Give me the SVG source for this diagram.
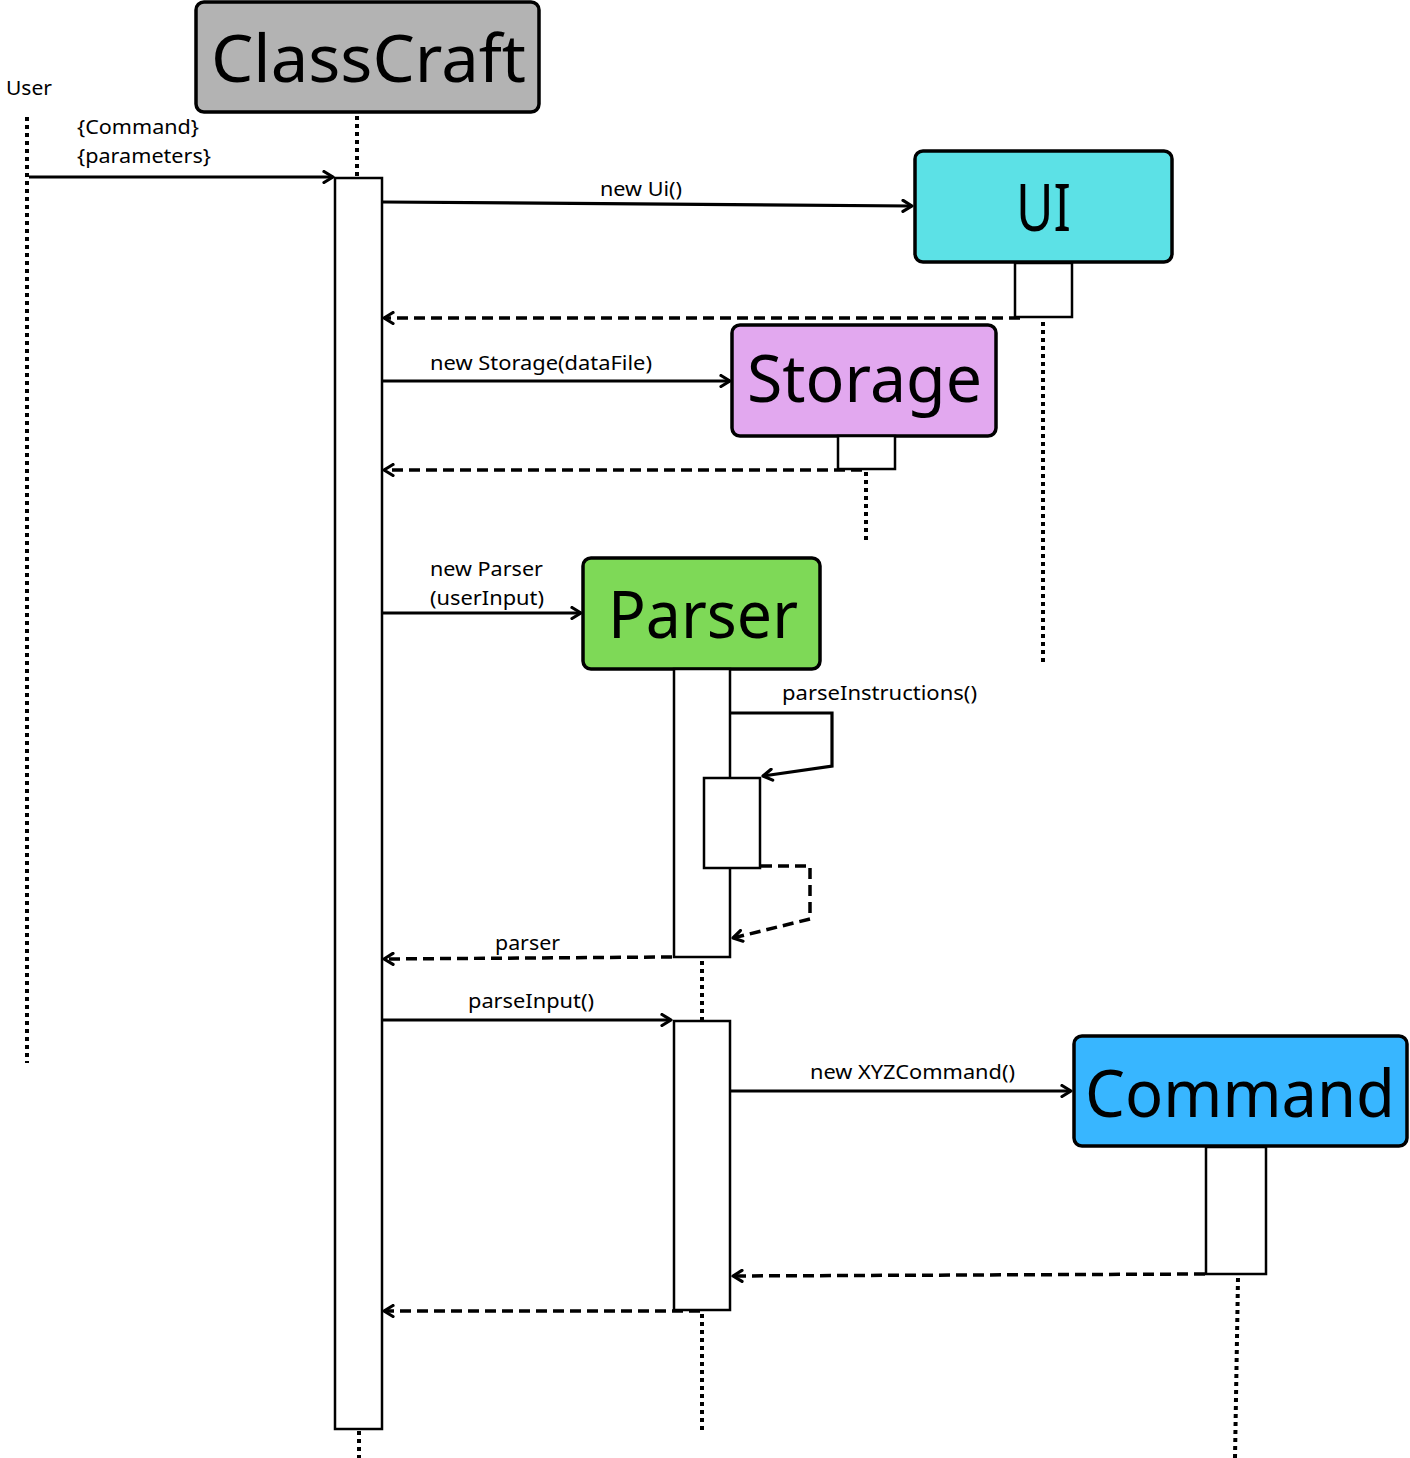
<svg xmlns="http://www.w3.org/2000/svg" width="1410" height="1458" viewBox="0 0 1410 1458">
<defs>
<style>
.box{stroke:#000;stroke-width:3.5}
.big{font-family:"Noto Sans","Open Sans",sans-serif;font-size:66px;fill:#000}
.lbl{font-family:"Noto Sans","Open Sans",sans-serif;font-size:20px;fill:#000}
.act{fill:#fff;stroke:#000;stroke-width:2.5}
.life{stroke:#000;stroke-width:4;stroke-dasharray:4 4;fill:none}
.msg{stroke:#000;stroke-width:3.2;fill:none;marker-end:url(#ah)}
.ret{stroke:#000;stroke-width:3.5;fill:none;stroke-dasharray:11 6;marker-end:url(#ah)}
</style>
<marker id="ah" viewBox="0 0 14 14" refX="12" refY="7" markerWidth="14" markerHeight="14" markerUnits="userSpaceOnUse" orient="auto">
<path d="M3,1.5 L12,7 L3,12.5" fill="none" stroke="#000" stroke-width="3.2" stroke-linecap="round" stroke-linejoin="round"/>
</marker>
</defs>
<rect width="1410" height="1458" fill="#fff"/>

<g id="user">
<text class="lbl" x="6" y="95" textLength="46" lengthAdjust="spacingAndGlyphs">User</text>
<line class="life" x1="27" y1="117" x2="27" y2="1063"/>
</g>

<g id="classcraft">
<rect class="box" x="196" y="2" width="343" height="110" rx="8" fill="#b3b3b3"/>
<text class="big" x="211" y="82" textLength="315" lengthAdjust="spacingAndGlyphs">ClassCraft</text>
<line class="life" x1="357" y1="116" x2="357" y2="177"/>
<rect class="act" x="335" y="178" width="47" height="1251"/>
<line class="life" x1="359" y1="1431" x2="359" y2="1458"/>
</g>

<g id="ui">
<rect class="box" x="915" y="151" width="257" height="111" rx="8" fill="#5ce1e6"/>
<text class="big" x="1016" y="231" textLength="55" lengthAdjust="spacingAndGlyphs">UI</text>
<rect class="act" x="1015" y="263" width="57" height="54"/>
<line class="life" x1="1043" y1="322" x2="1043" y2="666"/>
</g>

<g id="storage">
<rect class="box" x="732" y="325" width="264" height="111" rx="8" fill="#e2a8ef"/>
<text class="big" x="747" y="402" textLength="235" lengthAdjust="spacingAndGlyphs">Storage</text>
<rect class="act" x="838" y="436" width="57" height="33"/>
<line class="life" x1="866" y1="472" x2="866" y2="542"/>
</g>

<g id="parser">
<rect class="box" x="583" y="558" width="237" height="111" rx="8" fill="#7ed957"/>
<text class="big" x="608" y="638" textLength="190" lengthAdjust="spacingAndGlyphs">Parser</text>
<rect class="act" x="674" y="669" width="56" height="288"/>
<rect class="act" x="704" y="778" width="56" height="90"/>
<line class="life" x1="702" y1="961" x2="702" y2="1020"/>
<rect class="act" x="674" y="1021" width="56" height="289"/>
<line class="life" x1="702" y1="1314" x2="702" y2="1431"/>
</g>

<g id="command">
<rect class="box" x="1074" y="1036" width="333" height="110" rx="8" fill="#38b6ff"/>
<text class="big" x="1085" y="1117" textLength="310" lengthAdjust="spacingAndGlyphs">Command</text>
<rect class="act" x="1206" y="1147" width="60" height="127"/>
<line class="life" x1="1238" y1="1278" x2="1235" y2="1458"/>
</g>

<g id="connectors">
<text class="lbl" x="77" y="134" textLength="122" lengthAdjust="spacingAndGlyphs">{Command}</text>
<text class="lbl" x="77" y="163" textLength="134" lengthAdjust="spacingAndGlyphs">{parameters}</text>
<line class="msg" x1="29" y1="177" x2="333" y2="177"/>

<text class="lbl" x="600" y="196" textLength="82" lengthAdjust="spacingAndGlyphs">new Ui()</text>
<line class="msg" x1="383" y1="202" x2="912" y2="206"/>
<line class="ret" x1="1020" y1="318" x2="384" y2="318"/>

<text class="lbl" x="430" y="370" textLength="222" lengthAdjust="spacingAndGlyphs">new Storage(dataFile)</text>
<line class="msg" x1="383" y1="381" x2="730" y2="381"/>
<line class="ret" x1="862" y1="470" x2="384" y2="470"/>

<text class="lbl" x="430" y="576" textLength="113" lengthAdjust="spacingAndGlyphs">new Parser</text>
<text class="lbl" x="430" y="605" textLength="114" lengthAdjust="spacingAndGlyphs">(userInput)</text>
<line class="msg" x1="383" y1="613" x2="581" y2="613"/>

<text class="lbl" x="782" y="700" textLength="195" lengthAdjust="spacingAndGlyphs">parseInstructions()</text>
<polyline class="msg" points="731,713 832,713 832,766 763,776"/>
<polyline class="ret" points="761,866 810,866 810,919 733,938"/>

<text class="lbl" x="495" y="950" textLength="65" lengthAdjust="spacingAndGlyphs">parser</text>
<line class="ret" x1="672" y1="957" x2="384" y2="959"/>

<text class="lbl" x="468" y="1008" textLength="126" lengthAdjust="spacingAndGlyphs">parseInput()</text>
<line class="msg" x1="383" y1="1020" x2="671" y2="1020"/>

<text class="lbl" x="810" y="1079" textLength="205" lengthAdjust="spacingAndGlyphs">new XYZCommand()</text>
<line class="msg" x1="731" y1="1091" x2="1071" y2="1091"/>
<line class="ret" x1="1205" y1="1274" x2="733" y2="1276"/>
<line class="ret" x1="700" y1="1311" x2="384" y2="1311"/>
</g>
</svg>
